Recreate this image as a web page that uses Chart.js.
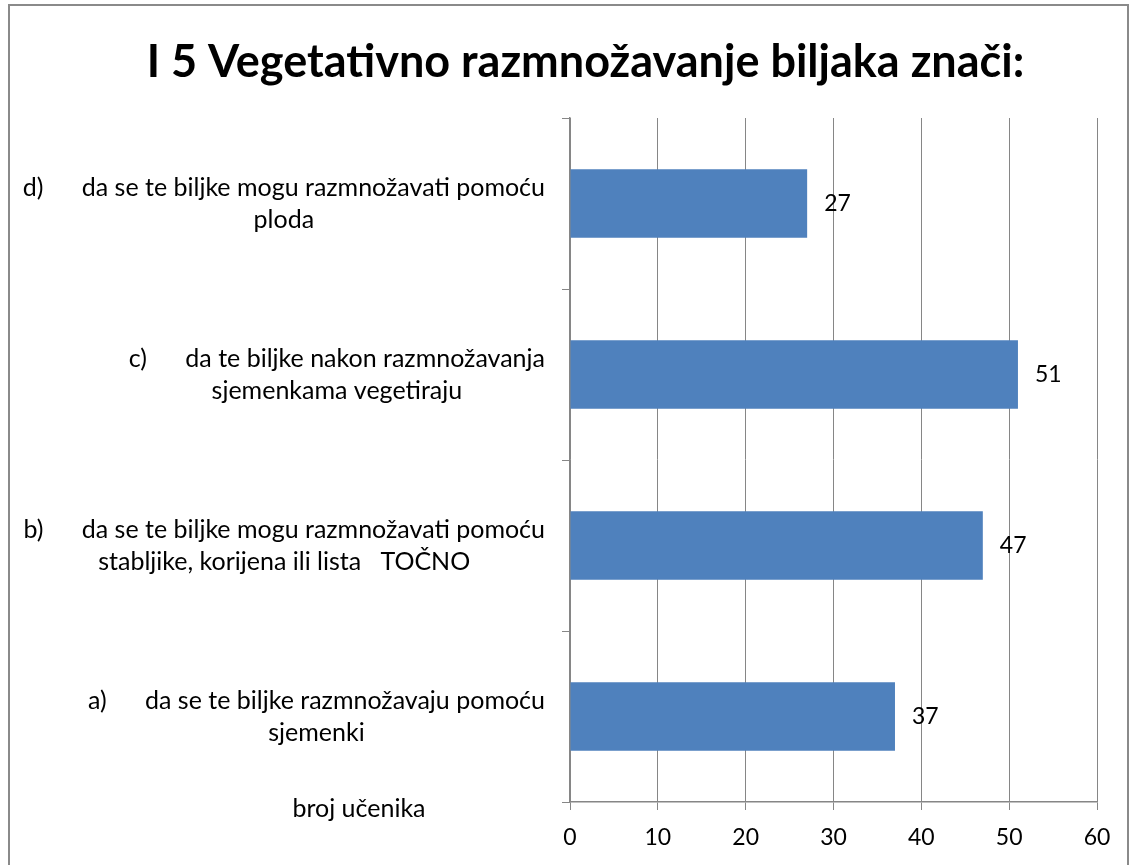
<!DOCTYPE html>
<html>
<head>
<meta charset="utf-8">
<script src="https://cdn.jsdelivr.net/npm/chart.js@4"></script>
<style>
  html, body { margin: 0; padding: 0; background: #fff; overflow: hidden; }
  #wrap { position: absolute; left: 0; top: 0; width: 1131px; height: 865px; }
  #frame { position: absolute; left: 8px; top: 4px; width: 1121px; height: 900px;
           border: 2px solid #8a8a8a; box-sizing: border-box; pointer-events: none; }
</style>
</head>
<body>
<div id="wrap">
  <canvas id="chart" width="1131" height="865"></canvas>
  <div id="frame"></div>
</div>
<script>
const FONT = 'Lato, "Open Sans", sans-serif';

const chartTitle = 'I 5 Vegetativno razmnožavanje biljaka znači:';
const axisTitle = 'broj učenika';

// top to bottom, as in the picture
const categories = [
  ['d)      da se te biljke mogu razmnožavati pomoću', 'ploda'],
  ['c)      da te biljke nakon razmnožavanja', 'sjemenkama vegetiraju'],
  ['b)      da se te biljke mogu razmnožavati pomoću', 'stabljike, korijena ili lista   TOČNO'],
  ['a)      da se te biljke razmnožavaju pomoću', 'sjemenki'],
];
const values = [27, 51, 47, 37];

const xMin = 0;
const xMax = 60;
const xStep = 10;

const GRID = '#868686';

const labelPlugin = {
  id: 'catLabels',
  afterDraw(chart) {
    const { ctx, scales: { x, y } } = chart;
    ctx.save();
    ctx.fillStyle = '#000';
    ctx.textBaseline = 'middle';

    // category labels: block right-aligned, lines centered inside it
    ctx.font = `25px ${FONT}`;
    ctx.textAlign = 'center';
    categories.forEach((lines, i) => {
      const cy = y.getPixelForValue(i);
      const widest = Math.max(...lines.map((l) => ctx.measureText(l).width));
      const cx = y.right - 25 - widest / 2;
      lines.forEach((l, j) => {
        ctx.fillText(l, cx, cy + (j - (lines.length - 1) / 2) * 32);
      });
    });

    // axis title sits left of the x axis
    ctx.fillText(axisTitle, y.right - 211, x.top + 7);

    // value labels at bar ends
    ctx.font = `23px ${FONT}`;
    ctx.textAlign = 'left';
    chart.getDatasetMeta(0).data.forEach((bar, i) => {
      ctx.fillText(String(values[i]), bar.x + 17, bar.y);
    });
    ctx.restore();
  },
};

new Chart(document.getElementById('chart'), {
  type: 'bar',
  data: {
    labels: categories,
    datasets: [{
      data: values,
      backgroundColor: '#4F81BD',
      borderWidth: 0,
      barPercentage: 0.4,
      categoryPercentage: 1,
    }],
  },
  options: {
    indexAxis: 'y',
    responsive: false,
    animation: false,
    devicePixelRatio: 1,
    layout: { padding: { left: 74, right: 34, top: 0, bottom: 0 } },
    plugins: {
      legend: { display: false },
      tooltip: { enabled: false },
      title: {
        display: true,
        text: chartTitle,
        color: '#000',
        font: { family: FONT, size: 45, weight: 'bold', lineHeight: 1.2 },
        padding: { top: 35, bottom: 29 },
      },
    },
    scales: {
      x: {
        min: xMin,
        max: xMax,
        ticks: { stepSize: xStep, color: '#000', padding: 14, font: { family: FONT, size: 23 } },
        grid: { color: GRID, lineWidth: 1, tickLength: 8 },
        border: { color: GRID, width: 1.5 },
        afterFit(s) { s.height = 63; },
      },
      y: {
        ticks: { display: false },
        grid: { drawOnChartArea: false, color: GRID, tickLength: 8, offset: true },
        border: { color: GRID, width: 1.5 },
        afterFit(s) { s.width = 570 - 74; },
      },
    },
  },
  plugins: [labelPlugin],
});
</script>
</body>
</html>
